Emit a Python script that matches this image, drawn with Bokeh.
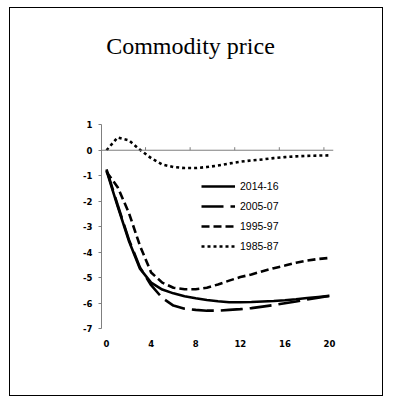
from bokeh.plotting import figure
from bokeh.models import (Range1d, LinearAxis, FixedTicker, Legend, LegendItem,
                          Span, CustomJSTickFormatter)
from bokeh.core.properties import value
from bokeh.embed import file_html
from bokeh.resources import INLINE

# ---- data ----
horizon = list(range(0, 21))
s2014_16 = [-0.8, -2.2, -3.55, -4.65, -5.2, -5.47, -5.62, -5.73, -5.81, -5.88, -5.93,
            -5.97, -5.97, -5.96, -5.94, -5.92, -5.89, -5.85, -5.8, -5.76, -5.72]
s2005_07 = [-0.75, -2.15, -3.5, -4.6, -5.3, -5.8, -6.1, -6.22, -6.27, -6.3, -6.3,
            -6.27, -6.24, -6.2, -6.14, -6.08, -6.01, -5.94, -5.86, -5.79, -5.72]
s1995_97 = [-0.85, -1.45, -2.45, -3.75, -4.8, -5.2, -5.4, -5.46, -5.46, -5.4, -5.27,
            -5.12, -4.98, -4.88, -4.75, -4.63, -4.53, -4.42, -4.33, -4.27, -4.23]
s1985_87 = [0.0, 0.5, 0.39, 0.02, -0.31, -0.56, -0.66, -0.7, -0.7, -0.66, -0.6,
            -0.52, -0.45, -0.4, -0.36, -0.31, -0.27, -0.24, -0.22, -0.21, -0.2]
series_names = ["2014-16", "2005-07", "1995-97", "1985-87"]
x_ticks = [0, 4, 8, 12, 16, 20]
y_ticks = [1, 0, -1, -2, -3, -4, -5, -6, -7]
title_text = "Commodity price"

x0, x1 = -0.45, 20.36
p = figure(width=374, height=389, output_backend="svg", toolbar_location=None,
           x_range=Range1d(x0, x1), y_range=Range1d(-7, 5.37),
           min_border_left=91, min_border_right=51, min_border_top=5,
           min_border_bottom=69, outline_line_color=None,
           x_axis_location=None, y_axis_location=None)
p.margin = (7, 0, 0, 9)
p.styles = {"border": "1.5px solid black"}
p.grid.visible = False

fmt = CustomJSTickFormatter(code="return tick.toFixed(0);")

# y axis (line limited to -7..1)
yax = LinearAxis(ticker=FixedTicker(ticks=y_ticks), formatter=fmt, bounds=(-7, 1),
                 axis_line_color="#7f7f7f",
                 major_tick_line_color="#7f7f7f", major_tick_out=3, major_tick_in=0,
                 minor_tick_line_color=None, major_label_standoff=6,
                 major_label_text_font="DejaVu Sans", major_label_text_font_style="bold",
                 major_label_text_font_size="8.5px", major_label_text_color="black")
p.add_layout(yax, "left")

# x labels at bottom
xlab = LinearAxis(ticker=FixedTicker(ticks=x_ticks), formatter=fmt,
                  axis_line_color=None,
                  major_tick_line_color=None, minor_tick_line_color=None,
                  major_label_standoff=5,
                  major_label_text_font="DejaVu Sans", major_label_text_font_style="bold",
                  major_label_text_font_size="8.5px", major_label_text_color="black")
p.add_layout(xlab, "below")

# x axis line through zero, with small upward ticks half a step left of the labels
p.add_layout(Span(location=0, dimension="width", line_color="#7f7f7f", line_width=1))
tick_x = [t - 0.5 for t in x_ticks[1:]]
p.segment(x0=tick_x, y0=[0] * len(tick_x), x1=tick_x, y1=[0.12] * len(tick_x),
          line_color="#7f7f7f", line_width=1)

r1 = p.line(horizon, s2014_16, line_color="black", line_width=2.6)
r2 = p.line(horizon, s2005_07, line_color="black", line_width=2.6, line_dash="22 7")
r3 = p.line(horizon, s1995_97, line_color="black", line_width=2.6, line_dash="8 4")
r4 = p.line(horizon, s1985_87, line_color="black", line_width=2.6, line_dash="3 3")

# title drawn inside the (taller) frame
p.text(x=[7.53], y=[4.1], text=[title_text], text_align="center",
       text_baseline="alphabetic", text_font=value("Liberation Serif"),
       text_font_size="24px", text_color="black")

legend = Legend(items=[LegendItem(label=n, renderers=[r]) for n, r in
                       zip(series_names, [r1, r2, r3, r4])],
                location=(100, 75), padding=0, margin=0, spacing=6,
                glyph_width=34, glyph_height=14, label_height=14, label_standoff=5,
                border_line_alpha=0, background_fill_alpha=0,
                label_text_font="Liberation Sans", label_text_font_size="10.5px",
                label_text_color="black")
p.add_layout(legend, "center")

open("out.html", "w").write(file_html(p, INLINE))
